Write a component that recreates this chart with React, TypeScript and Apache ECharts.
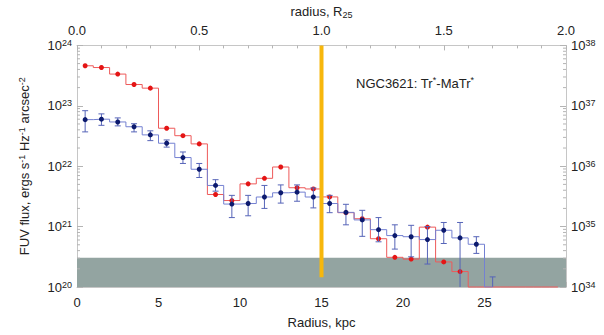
import React, { useEffect, useRef } from "react";
import * as echarts from "echarts";

// ---- data ----
const radiusKpc = [
  0.5, 1.5, 2.5, 3.5, 4.5, 5.5, 6.5, 7.5, 8.5, 9.5, 10.5, 11.5, 12.5, 13.5, 14.5,
  15.5, 16.5, 17.5, 18.5, 19.5, 20.5, 21.5, 22.5, 23.5, 24.5, 25.5, 26.5, 27.5, 28.5, 29.5,
];
// red profile (0 = no flux, drawn on the lower axis limit)
const redFlux = [
  4.6e23, 4.3e23, 3.35e23, 2.25e23, 1.96e23, 4.25e22, 3.2e22, 2.34e22, 3.4e21, 2.7e21,
  5.1e21, 6.3e21, 9.7e21, 4.4e21, 4.2e21, 3.1e21, 1.7e21, 1.35e21, 6.3e20, 3.1e20,
  2.9e20, 9.8e20, 2.6e20, 1.8e20, 0, 0, 0, 0, 0, 0,
];
// blue profile with error bars
const blueFlux = [
  5.9e22, 6.0e22, 5.4e22, 4.5e22, 3.3e22, 2.4e22, 1.39e22, 8.9e21, 4.8e21, 2.36e21,
  2.41e21, 3.09e21, 3.63e21, 3.72e21, 3.09e21, 2.41e21, 1.72e21, 1.29e21, 8.9e20, 7.1e20,
  6.8e20, 6.1e20, 8.7e20, 6.5e20, 5.1e20, 0,
];
const blueLow = [
  3.7e22, 4.75e22, 4.65e22, 3.7e22, 2.65e22, 2.07e22, 1.11e22, 6.5e21, 3.86e21, 1.41e21,
  1.51e21, 2.0e21, 2.45e21, 2.63e21, 2.04e21, 1.7e21, 1.07e21, 6.9e20, 5.6e20, 4.24e20,
  3.16e20, 2.4e20, 5.25e20, 0, 3.6e20, 0,
];
const blueHigh = [
  8.3e22, 7.35e22, 6.3e22, 5.05e22, 3.85e22, 2.72e22, 1.72e22, 1.11e22, 5.98e21, 3.29e21,
  3.29e21, 4.8e21, 4.9e21, 4.9e21, 4.37e21, 3.29e21, 2.34e21, 1.86e21, 1.41e21, 1.07e21,
  1.05e21, 1.0e21, 1.17e21, 1.17e21, 6.8e20, 1.47e20,
];
const r25Kpc = 15;
const r25LineRange = [1.45e20, 1e24];
const backgroundLevel = 3.05e20;
const leftExponents = [20, 21, 22, 23, 24];
const rightExponents = [34, 35, 36, 37, 38];
const annotationParts = ["NGC3621: Tr", "*", "-MaTr", "*"];

const FONT = '"Liberation Sans", Arial, Helvetica, sans-serif';
const TEXT = "#222";
const FRAME = "#c6c6c6";
const TICK = "#b4b4b4";
const X_MAX = 30;
const Y_MIN = Math.pow(10, leftExponents[0]);
const Y_MAX = Math.pow(10, leftExponents[leftExponents.length - 1]);

const richPow = {
  b: { fontSize: 13, fontFamily: FONT, color: TEXT, lineHeight: 14 },
  s: { fontSize: 9, fontFamily: FONT, color: TEXT, lineHeight: 6, verticalAlign: "top" as const },
};

export default function App() {
  const ref = useRef<HTMLDivElement>(null);

  useEffect(() => {
    if (!ref.current) return;
    const chart = echarts.init(ref.current, null, { renderer: "svg" });

    const redData = radiusKpc.slice(0, redFlux.length).map((x, i) =>
      redFlux[i] > 0 ? { value: [x, redFlux[i]] } : { value: [x, Y_MIN], symbol: "none" }
    );
    const blueData = radiusKpc.slice(0, blueFlux.length).map((x, i) =>
      blueFlux[i] > 0 ? { value: [x, blueFlux[i]] } : { value: [x, Y_MIN], symbol: "none" }
    );
    const errData = radiusKpc.slice(0, blueFlux.length).map((x, i) => [x, blueLow[i], blueHigh[i]]);

    // minor log ticks (2..9 x 10^k) for left (side 0) and right (side 1)
    const minorTickData: number[][] = [];
    for (let k = 0; k < leftExponents.length - 1; k++) {
      for (let m = 2; m <= 9; m++) {
        const v = m * Math.pow(10, leftExponents[k]);
        minorTickData.push([0, v]);
        minorTickData.push([X_MAX, v]);
      }
    }

    const option: any = {
      animation: false,
      backgroundColor: "#ffffff",
      grid: { left: 77, right: 38, top: 40, bottom: 48, containLabel: false },
      xAxis: [
        {
          type: "value",
          position: "bottom",
          min: 0,
          max: X_MAX,
          interval: 5,
          axisLine: { show: true, onZero: false, lineStyle: { color: FRAME, width: 1 } },
          axisTick: { show: true, inside: true, length: 5, lineStyle: { color: TICK } },
          minorTick: { show: true, splitNumber: 5, length: 3, lineStyle: { color: TICK } },
          splitLine: { show: false },
          minorSplitLine: { show: false },
          axisLabel: { color: TEXT, fontSize: 13, fontFamily: FONT, margin: 9, showMaxLabel: false },
          name: "Radius, kpc",
          nameLocation: "middle",
          nameGap: 29,
          nameTextStyle: { color: TEXT, fontSize: 13, fontFamily: FONT },
        },
        {
          type: "value",
          position: "top",
          min: 0,
          max: X_MAX / r25Kpc,
          interval: 0.5,
          axisLine: { show: true, onZero: false, lineStyle: { color: FRAME, width: 1 } },
          axisTick: { show: true, inside: true, length: 5, lineStyle: { color: TICK } },
          minorTick: { show: true, splitNumber: 5, length: 3, lineStyle: { color: TICK } },
          splitLine: { show: false },
          minorSplitLine: { show: false },
          axisLabel: {
            color: TEXT,
            fontSize: 13,
            fontFamily: FONT,
            margin: 8,
            formatter: (v: number) => v.toFixed(1),
          },
          name: "{b|radius, R}{s|25}",
          nameLocation: "middle",
          nameGap: 22,
          nameTextStyle: {
            rich: {
              b: { fontSize: 13, fontFamily: FONT, color: TEXT, lineHeight: 16 },
              s: { fontSize: 9, fontFamily: FONT, color: TEXT, lineHeight: 12, verticalAlign: "bottom" },
            },
          },
        },
      ],
      yAxis: [
        {
          type: "log",
          logBase: 10,
          min: Y_MIN,
          max: Y_MAX,
          splitNumber: 4,
          position: "left",
          axisLine: { show: true, onZero: false, lineStyle: { color: FRAME, width: 1 } },
          axisTick: { show: true, inside: true, length: 6, lineStyle: { color: TICK } },
          splitLine: { show: false },
          axisLabel: {
            margin: 5,
            formatter: (v: number) => `{b|10}{s|${Math.round(Math.log10(v))}}`,
            rich: richPow,
          },
          name: "{b|FUV flux, ergs s}{s|-1}{b| Hz}{s|-1}{b| arcsec}{s|-2}",
          nameLocation: "middle",
          nameGap: 46,
          nameTextStyle: { rich: richPow },
        },
        {
          type: "log",
          logBase: 10,
          min: Math.pow(10, rightExponents[0]),
          max: Math.pow(10, rightExponents[rightExponents.length - 1]),
          splitNumber: 4,
          position: "right",
          axisLine: { show: true, onZero: false, lineStyle: { color: FRAME, width: 1 } },
          axisTick: { show: true, inside: true, length: 6, lineStyle: { color: TICK } },
          splitLine: { show: false },
          axisLabel: {
            margin: 5,
            formatter: (v: number) => `{b|10}{s|${Math.round(Math.log10(v))}}`,
            rich: richPow,
          },
        },
      ],
      graphic: [
        {
          type: "text",
          left: 356,
          top: 75,
          style: {
            text: `{b|${annotationParts[0]}}{s|${annotationParts[1]}}{b|${annotationParts[2]}}{s|${annotationParts[3]}}`,
            rich: {
              b: { fontSize: 13, fontFamily: FONT, fill: TEXT, lineHeight: 16 },
              s: { fontSize: 9, fontFamily: FONT, fill: TEXT, lineHeight: 9, verticalAlign: "top" },
            },
          },
        },
      ],
      series: [
        {
          type: "line",
          xAxisIndex: 0,
          yAxisIndex: 0,
          data: [],
          z: 1,
          markArea: {
            silent: true,
            itemStyle: { color: "#93a4a1", opacity: 1 },
            data: [[{ xAxis: 0, yAxis: Y_MIN }, { xAxis: X_MAX, yAxis: backgroundLevel }]],
          },
        },
        {
          type: "custom",
          xAxisIndex: 0,
          yAxisIndex: 0,
          z: 2,
          silent: true,
          data: minorTickData,
          renderItem: (params: any, api: any) => {
            const p = api.coord([api.value(0), api.value(1)]);
            const dir = api.value(0) === 0 ? 1 : -1;
            return {
              type: "line",
              shape: { x1: p[0], y1: p[1], x2: p[0] + dir * 3, y2: p[1] },
              style: { stroke: TICK, lineWidth: 1 },
            };
          },
        },
        {
          name: "red",
          type: "line",
          xAxisIndex: 0,
          yAxisIndex: 0,
          step: "middle",
          clip: false,
          z: 3,
          data: redData,
          symbol: "circle",
          symbolSize: 5,
          lineStyle: { color: "#ee5a5a", width: 1 },
          itemStyle: { color: "#e41515" },
        },
        {
          type: "custom",
          xAxisIndex: 0,
          yAxisIndex: 0,
          z: 4,
          silent: true,
          data: errData,
          renderItem: (params: any, api: any) => {
            const cs = params.coordSys;
            const top = cs.y;
            const bottom = cs.y + cs.height;
            const x = api.value(0);
            const lo = api.value(1);
            const hi = api.value(2);
            const pHi = api.coord([x, hi]);
            const loIn = lo >= Y_MIN;
            const pLo = loIn ? api.coord([x, lo]) : [pHi[0], bottom];
            const yHi = Math.max(top, Math.min(bottom, pHi[1]));
            const yLo = Math.max(top, Math.min(bottom, pLo[1]));
            const cx = pHi[0];
            const w = 3;
            const stroke = { stroke: "#5664b8", lineWidth: 1 };
            const children: any[] = [
              { type: "line", shape: { x1: cx, y1: yHi, x2: cx, y2: yLo }, style: stroke },
              { type: "line", shape: { x1: cx - w, y1: yHi, x2: cx + w, y2: yHi }, style: stroke },
            ];
            if (loIn) {
              children.push({ type: "line", shape: { x1: cx - w, y1: yLo, x2: cx + w, y2: yLo }, style: stroke });
            }
            return { type: "group", children };
          },
        },
        {
          name: "blue",
          type: "line",
          xAxisIndex: 0,
          yAxisIndex: 0,
          step: "middle",
          z: 5,
          data: blueData,
          symbol: "circle",
          symbolSize: 5,
          lineStyle: { color: "#7481d2", width: 1 },
          itemStyle: { color: "#0c1a6e" },
        },
        {
          type: "line",
          xAxisIndex: 0,
          yAxisIndex: 0,
          z: 6,
          symbol: "none",
          data: [
            [r25Kpc, r25LineRange[0]],
            [r25Kpc, r25LineRange[1]],
          ],
          lineStyle: { color: "#f7b70c", width: 4 },
        },
      ],
    };

    chart.setOption(option);
    return () => chart.dispose();
  }, []);

  return (
    <div
      ref={ref}
      style={{ position: "absolute", left: 0, top: 0, width: 604, height: 335, background: "#fff" }}
    />
  );
}
